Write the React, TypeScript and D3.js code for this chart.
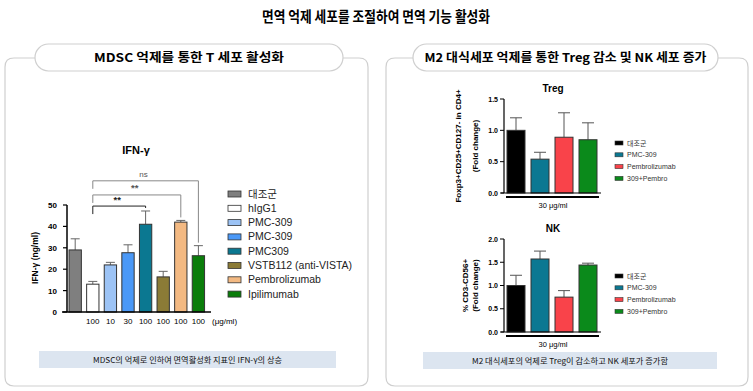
import React from "react";
import * as d3 from "d3";

// left chart: IFN-γ
const ifnGroups = ["대조군", "hIgG1", "PMC-309", "PMC-309", "PMC309", "VSTB112 (anti-VISTA)", "Pembrolizumab", "Ipilimumab"];
const ifnColors = ["#7f7f7f", "#ffffff", "#9cc3f5", "#4a98f7", "#0b7891", "#8b7b36", "#f3b982", "#0a7d0a"];
const ifnMeans = [29, 13, 22, 27.7, 41, 16.4, 42, 26.3];
const ifnErrTop = [34.2, 14.3, 23.2, 31.4, 47.2, 19, 42.8, 31];
const ifnDoses = ["", "100", "10", "30", "100", "100", "100", "100"];
const ifnTicks = [0, 10, 20, 30, 40, 50];
const ifnCompare = [
  { from: 1, to: 4, level: 49.5, label: "**", color: "#222" },
  { from: 1, to: 6, level: 54.7, label: "**", color: "#888" },
  { from: 1, to: 7, level: 61.3, label: "ns", color: "#888" },
];

// right charts
const m2Groups = ["대조군", "PMC-309", "Pembrolizumab", "309+Pembro"];
const m2Colors = ["#000000", "#0b7892", "#f9434a", "#0b8a1b"];
const tregMeans = [1.0, 0.54, 0.89, 0.85];
const tregErrTop = [1.2, 0.65, 1.28, 1.12];
const tregTicks = [0, 0.5, 1.0, 1.5];
const nkMeans = [1.0, 1.57, 0.75, 1.44];
const nkErrTop = [1.22, 1.74, 0.89, 1.48];
const nkTicks = [0, 0.5, 1.0, 1.5, 2.0];

const KR = "'Noto Sans CJK KR', 'Noto Sans', sans-serif";
const AR = "'Liberation Sans', Arial, sans-serif";

function SmallChart(props: {
  title: string; means: number[]; errs: number[]; ticks: number[]; max: number;
  top: number; bottom: number; yLabel: string[]; legendTop: number;
}) {
  const { title, means, errs, ticks, max, top, bottom, yLabel, legendTop } = props;
  const x = d3.scaleBand<number>().domain(d3.range(m2Groups.length)).range([503.4, 600.6]).paddingInner(0.25).paddingOuter(0.15);
  const y = d3.scaleLinear().domain([0, max]).range([bottom, top]);
  const bw = x.bandwidth();
  const midY = (top + bottom) / 2;
  const fmt = d3.format(".1f");
  return (
    <g>
      <text x={553} y={top - 7} textAnchor="middle" fontFamily={AR} fontWeight="bold" fontSize={10}>{title}</text>
      {means.map((m, i) => {
        const cx = x(i)! + bw / 2;
        return (
          <g key={i}>
            <line x1={cx} x2={cx} y1={y(m)} y2={y(errs[i])} stroke="#555" strokeWidth={1} />
            <line x1={cx - 6} x2={cx + 6} y1={y(errs[i])} y2={y(errs[i])} stroke="#555" strokeWidth={1} />
            <rect x={x(i)} y={y(m)} width={bw} height={bottom - y(m)} fill={m2Colors[i]} stroke="#333" strokeWidth={1} />
          </g>
        );
      })}
      <line x1={504} x2={504} y1={top} y2={bottom} stroke="#000" strokeWidth={1.2} />
      <line x1={501} x2={601} y1={bottom} y2={bottom} stroke="#000" strokeWidth={1.2} />
      {ticks.map((t) => (
        <g key={t}>
          <line x1={500} x2={504} y1={y(t)} y2={y(t)} stroke="#000" />
          <text x={498} y={y(t) + 2.5} textAnchor="end" fontFamily={AR} fontWeight="bold" fontSize={7}>{fmt(t)}</text>
        </g>
      ))}
      <line x1={506} x2={599} y1={bottom + 4} y2={bottom + 4} stroke="#000" strokeWidth={2} />
      <text x={553} y={bottom + 15} textAnchor="middle" fontFamily={AR} fontSize={7.5}>30 μg/ml</text>
      {yLabel.map((l, k) => {
        const lx = (l.length > 15 ? 461 : 468) + k * 9.5;
        return (
          <text key={k} transform={`translate(${lx},${midY}) rotate(-90)`} textAnchor="middle" fontFamily={AR} fontWeight="bold" fontSize={8}>{l}</text>
        );
      })}
      {m2Groups.map((g, i) => (
        <g key={i} transform={`translate(615,${legendTop + i * 11.8})`}>
          <rect x={0} y={-2} width={8} height={4} fill={m2Colors[i]} stroke="#333" strokeWidth={0.6} />
          <text x={12} y={2.5} fontFamily={i === 0 ? KR : AR} fontSize={7} fill="#333">{g}</text>
        </g>
      ))}
    </g>
  );
}

function Panel(props: { x0: number; x1: number; px0: number; px1: number; title: string; titleLen: number }) {
  const { x0, x1, px0, px1, title, titleLen } = props;
  const r = 9;
  const top = 58, bot = 386;
  const path = `M${px0},${top} L${x0 + r},${top} Q${x0},${top} ${x0},${top + r} L${x0},${bot - r} Q${x0},${bot} ${x0 + r},${bot} L${x1 - r},${bot} Q${x1},${bot} ${x1},${bot - r} L${x1},${top + r} Q${x1},${top} ${x1 - r},${top} L${px1},${top}`;
  return (
    <g>
      <path d={path} fill="none" stroke="#cfcfcf" strokeWidth={1.2} />
      <rect x={px0} y={44} width={px1 - px0} height={27} rx={13.5} fill="#fff" stroke="#cfcfcf" strokeWidth={1.2} />
      <text x={(px0 + px1) / 2} y={62} textAnchor="middle" fontFamily={KR} fontWeight="bold" fontSize={12} textLength={titleLen} lengthAdjust="spacingAndGlyphs">{title}</text>
    </g>
  );
}

export default function App() {
  const x = d3.scaleBand<number>().domain(d3.range(ifnGroups.length)).range([66.4, 207.2]).paddingInner(0.3).paddingOuter(0.15);
  const y = d3.scaleLinear().domain([0, 50]).range([312, 205]);
  const bw = x.bandwidth();
  const cx = (i: number) => x(i)! + bw / 2;

  return (
    <svg width={753} height={391} style={{ position: "absolute", left: 0, top: 0, background: "#fff" }}>
      <text x={376} y={22} textAnchor="middle" fontFamily={KR} fontWeight="bold" fontSize={15} textLength={228} lengthAdjust="spacingAndGlyphs">면역 억제 세포를 조절하여 면역 기능 활성화</text>

      <Panel x0={5} x1={368} px0={35} px1={343} title="MDSC 억제를 통한 T 세포 활성화" titleLen={190} />
      <Panel x0={386} x1={748} px0={413} px1={718} title="M2 대식세포 억제를 통한 Treg 감소 및 NK 세포 증가" titleLen={282} />

      {/* IFN-γ chart */}
      <text x={136} y={154} textAnchor="middle" fontFamily={AR} fontWeight="bold" fontSize={11}>IFN-γ</text>
      {ifnMeans.map((m, i) => (
        <g key={i}>
          <line x1={cx(i)} x2={cx(i)} y1={y(m)} y2={y(ifnErrTop[i])} stroke="#666" />
          <line x1={cx(i) - 4.5} x2={cx(i) + 4.5} y1={y(ifnErrTop[i])} y2={y(ifnErrTop[i])} stroke="#666" />
          <rect x={x(i)} y={y(m)} width={bw} height={312 - y(m)} fill={ifnColors[i]} stroke="#333" strokeWidth={1} />
        </g>
      ))}
      <line x1={67} x2={67} y1={205} y2={312} stroke="#000" strokeWidth={1.5} />
      <line x1={62} x2={211} y1={312} y2={312} stroke="#000" strokeWidth={1.5} />
      {ifnTicks.map((t) => (
        <g key={t}>
          <line x1={63} x2={67} y1={y(t)} y2={y(t)} stroke="#000" strokeWidth={1.2} />
          <text x={57} y={y(t) + 3} textAnchor="end" fontFamily={AR} fontWeight="bold" fontSize={8}>{t}</text>
        </g>
      ))}
      {ifnDoses.map((d, i) => (
        <text key={i} x={cx(i)} y={324} textAnchor="middle" fontFamily={AR} fontSize={8}>{d}</text>
      ))}
      <text x={212} y={324} fontFamily={AR} fontSize={8}>(μg/ml)</text>
      <text transform={`translate(38,258) rotate(-90)`} textAnchor="middle" fontFamily={AR} fontWeight="bold" fontSize={8.5}>IFN-γ (ng/ml)</text>
      {ifnCompare.map((c, k) => {
        const ly = y(c.level);
        return (
          <g key={k} fill="none" stroke={c.color} strokeWidth={1}>
            <path d={`M${cx(c.from)},${ly + 8} V${ly} H${cx(c.to)} V${y(ifnErrTop[c.to]) - 3}`} />
            <text x={(cx(c.from) + cx(c.to)) / 2 - 2} y={ly - 3.5} textAnchor="middle" fontFamily={AR}
              fontSize={c.label === "ns" ? 8 : 9.5} fontWeight={c.label === "ns" ? "normal" : "bold"}
              fill={c.color === "#222" ? "#222" : "#555"} stroke="none">{c.label}</text>
          </g>
        );
      })}
      {ifnGroups.map((g, i) => (
        <g key={i} transform={`translate(228,${194 + i * 14.3})`}>
          <rect x={0} y={-3} width={13} height={6} fill={ifnColors[i]} stroke="#333" strokeWidth={0.8} />
          <text x={20} y={3.5} fontFamily={i === 0 ? KR : AR} fontSize={10.5} fill="#222">{g}</text>
        </g>
      ))}

      <rect x={39} y={351} width={297} height={17} fill="#dce5f0" />
      <text x={187.5} y={362.5} textAnchor="middle" fontFamily={KR} fontSize={8} fill="#111" textLength={189} lengthAdjust="spacingAndGlyphs">MDSC의 억제로 인하여 면역활성화 지표인 IFN-γ의 상승</text>

      {/* M2 charts */}
      <SmallChart title="Treg" means={tregMeans} errs={tregErrTop} ticks={tregTicks} max={1.5} top={99} bottom={193}
        yLabel={["Foxp3+CD25+CD127- in CD4+", "(Fold change)"]} legendTop={143} />
      <SmallChart title="NK" means={nkMeans} errs={nkErrTop} ticks={nkTicks} max={2} top={239} bottom={332}
        yLabel={["% CD3-CD56+", "(Fold change)"]} legendTop={276} />

      <rect x={423} y={352} width={294} height={17} fill="#dce5f0" />
      <text x={570} y={363.5} textAnchor="middle" fontFamily={KR} fontSize={8} fill="#111" textLength={196} lengthAdjust="spacingAndGlyphs">M2 대식세포의 억제로 Treg이 감소하고 NK 세포가 증가함</text>
    </svg>
  );
}
